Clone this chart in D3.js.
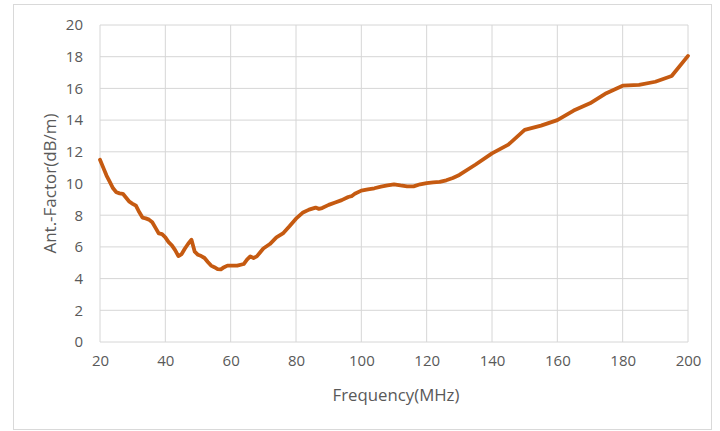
<!DOCTYPE html>
<html>
<head>
<meta charset="utf-8">
<script src="https://cdn.jsdelivr.net/npm/d3@7"></script>
<style>
  body { margin: 0; background: #fff; }
  text { font-family: "Open Sans", sans-serif; fill: #595959; }
</style>
</head>
<body>
<svg id="chart"></svg>
<script>
// Data
const freq = [20, 21, 22, 23, 24, 25, 26, 27, 28, 29, 30, 31, 32, 33, 34, 35, 36, 37, 38, 39,
  40, 41, 42, 43, 44, 45, 46, 47, 48, 49, 50, 51, 52, 53, 54, 55, 56, 57, 58, 59,
  60, 62, 64, 65, 66, 67, 68, 70, 72, 74, 76, 78, 80, 82, 84, 86, 87, 88, 90, 92,
  94, 96, 97, 98, 100, 102, 104, 106, 108, 110, 112, 114, 116, 118, 120, 122, 124, 126, 128, 130,
  135, 140, 145, 150, 155, 160, 165, 170, 175, 180, 185, 190, 195, 200];
const antFactor = [11.5, 11.0, 10.5, 10.1, 9.7, 9.45, 9.38, 9.35, 9.1, 8.85, 8.72, 8.6, 8.2, 7.85, 7.8, 7.72, 7.55, 7.2, 6.85, 6.8,
  6.6, 6.3, 6.1, 5.8, 5.42, 5.55, 5.9, 6.2, 6.45, 5.7, 5.5, 5.42, 5.3, 5.05, 4.82, 4.72, 4.6, 4.58, 4.72, 4.82,
  4.82, 4.82, 4.92, 5.2, 5.4, 5.3, 5.4, 5.9, 6.18, 6.6, 6.85, 7.3, 7.78, 8.15, 8.35, 8.48, 8.4, 8.45, 8.65, 8.8,
  8.95, 9.15, 9.2, 9.35, 9.55, 9.63, 9.7, 9.8, 9.88, 9.95, 9.88, 9.82, 9.82, 9.95, 10.03, 10.07, 10.1, 10.2, 10.35, 10.54,
  11.2, 11.9, 12.45, 13.38, 13.65, 14.0, 14.6, 15.06, 15.7, 16.17, 16.22, 16.42, 16.78, 18.05];
const xTicks = d3.range(20, 201, 20);
const yTicks = d3.range(0, 21, 2);

const W = 720, H = 431;
const margin = { top: 25, right: 32, bottom: 89, left: 100 };
const width = W - margin.left - margin.right;
const height = H - margin.top - margin.bottom;

const svg = d3.select("#chart").attr("width", W).attr("height", H);

// outer chart frame
svg.append("rect")
  .attr("x", 13.5).attr("y", 4.5)
  .attr("width", 698).attr("height", 425)
  .attr("fill", "#fff")
  .attr("stroke", "#d9d9d9");

const g = svg.append("g").attr("transform", `translate(${margin.left},${margin.top})`);

const x = d3.scaleLinear().domain([20, 200]).range([0, width]);
const y = d3.scaleLinear().domain([0, 20]).range([height, 0]);

// gridlines
g.append("g").selectAll("line").data(yTicks).join("line")
  .attr("x1", 0).attr("x2", width)
  .attr("y1", d => y(d)).attr("y2", d => y(d))
  .attr("stroke", "#d6d6d6").attr("stroke-width", 1);
g.append("g").selectAll("line").data(xTicks).join("line")
  .attr("y1", 0).attr("y2", height)
  .attr("x1", d => x(d)).attr("x2", d => x(d))
  .attr("stroke", "#d6d6d6").attr("stroke-width", 1);

// axes (labels only, Excel style)
const xAxis = g.append("g")
  .attr("transform", `translate(0,${height})`)
  .call(d3.axisBottom(x).tickValues(xTicks).tickSize(0).tickPadding(13));
const yAxis = g.append("g")
  .call(d3.axisLeft(y).tickValues(yTicks).tickSize(0).tickPadding(17));
[xAxis, yAxis].forEach(a => {
  a.select(".domain").remove();
  a.selectAll("text").style("font-size", "15px").attr("fill", "#595959")
    .style("font-family", "'Open Sans', sans-serif");
});

// axis titles
g.append("text")
  .attr("x", width / 2 + 2).attr("y", height + 59)
  .attr("text-anchor", "middle")
  .style("font-size", "16.8px")
  .text("Frequency(MHz)");
g.append("text")
  .attr("transform", "rotate(-90)")
  .attr("x", -height / 2).attr("y", -44)
  .attr("text-anchor", "middle")
  .style("font-size", "17px")
  .text("Ant.-Factor(dB/m)");

// curve
const line = d3.line()
  .x((d, i) => x(freq[i]))
  .y(d => y(d));
g.append("path")
  .datum(antFactor)
  .attr("fill", "none")
  .attr("stroke", "#c55a11")
  .attr("stroke-width", 3.8)
  .attr("stroke-linejoin", "round")
  .attr("stroke-linecap", "round")
  .attr("d", line);
</script>
</body>
</html>
